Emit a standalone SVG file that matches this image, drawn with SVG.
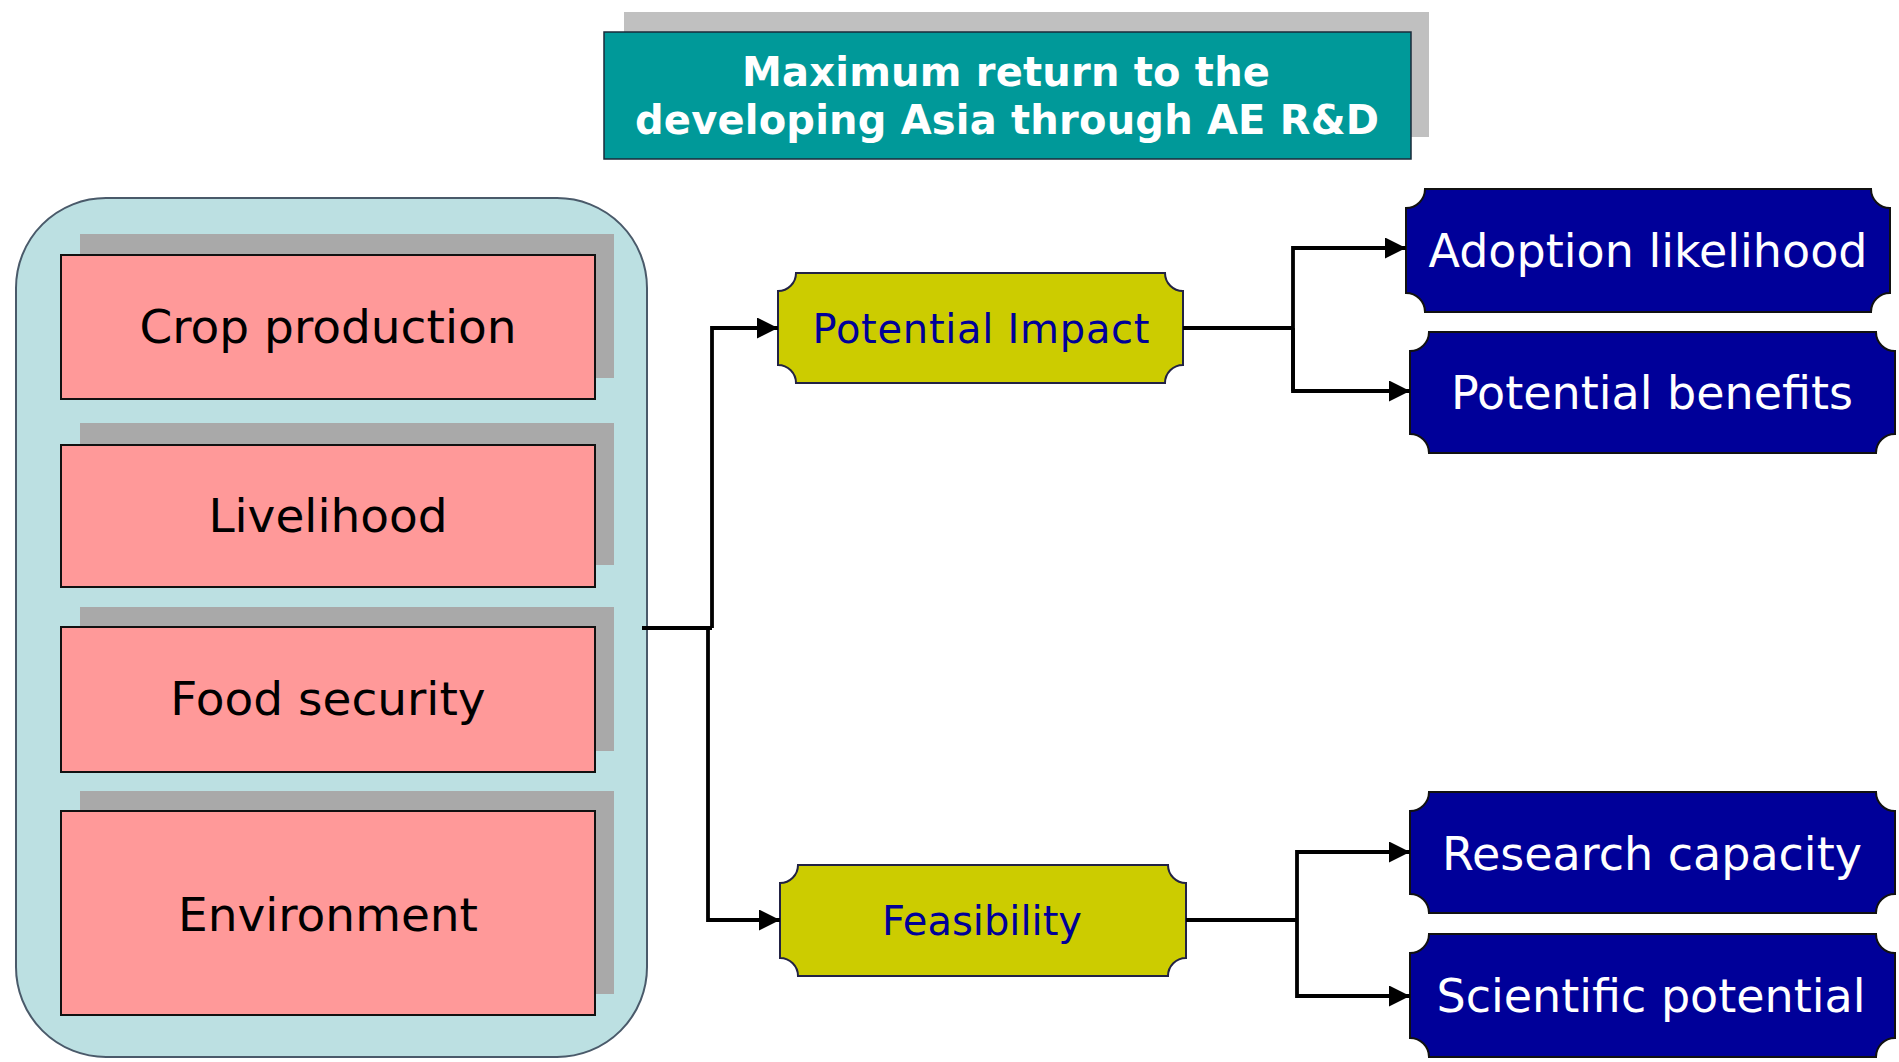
<svg xmlns="http://www.w3.org/2000/svg" width="1899" height="1062" viewBox="0 0 1899 1062">
  <style>
    text { font-family: "DejaVu Sans", Verdana, sans-serif; text-anchor: middle; }
    .title { font-size: 40px; font-weight: bold; fill: #ffffff; }
    .factor { fill: #ff9999; stroke: #111111; stroke-width: 2; }
    .factor-shadow { fill: #a9a9a9; }
    .factor-label { font-size: 47px; fill: #000000; }
    .criterion { fill: #cccc00; stroke: #222244; stroke-width: 2; }
    .criterion-label { font-size: 40px; fill: #000099; }
    .indicator { fill: #000099; stroke: #111111; stroke-width: 2; }
    .indicator-label { font-size: 46px; fill: #ffffff; }
    .wire { fill: none; stroke: #000000; stroke-width: 3.8; }
  </style>
  <defs>
    <marker id="arrow" viewBox="0 0 20 20" refX="20" refY="10" markerWidth="21" markerHeight="21" markerUnits="userSpaceOnUse" orient="auto">
      <path d="M0,0 L20,10 L0,20 Z" fill="#000000"/>
    </marker>
  </defs>

  <rect width="1899" height="1062" fill="#ffffff"/>

  <!-- goal banner -->
  <g id="goal">
    <rect x="624" y="12" width="805" height="125" fill="#c0c0c0"/>
    <rect x="604" y="32" width="807" height="127" fill="#009999" stroke="#1a2a3a" stroke-width="1.5"/>
    <text class="title" x="1006" y="86" textLength="528" lengthAdjust="spacing">Maximum return to the</text>
    <text class="title" x="1007" y="134" textLength="744" lengthAdjust="spacing">developing Asia through AE R&amp;D</text>
  </g>

  <!-- impact domains -->
  <g id="domains">
    <rect x="16" y="198" width="631" height="859" rx="90" ry="90" fill="#bce0e2" stroke="#4a5a6a" stroke-width="2"/>
  </g>
  <g id="crop-production">
    <rect class="factor-shadow" x="80" y="234" width="534" height="144"/>
    <rect class="factor" x="61" y="255" width="534" height="144"/>
    <text class="factor-label" x="328" y="343">Crop production</text>
  </g>
  <g id="livelihood">
    <rect class="factor-shadow" x="80" y="423" width="534" height="142"/>
    <rect class="factor" x="61" y="445" width="534" height="142"/>
    <text class="factor-label" x="328" y="532">Livelihood</text>
  </g>
  <g id="food-security">
    <rect class="factor-shadow" x="80" y="607" width="534" height="144"/>
    <rect class="factor" x="61" y="627" width="534" height="145"/>
    <text class="factor-label" x="328" y="715">Food security</text>
  </g>
  <g id="environment">
    <rect class="factor-shadow" x="80" y="791" width="534" height="203"/>
    <rect class="factor" x="61" y="811" width="534" height="204"/>
    <text class="factor-label" x="328" y="931">Environment</text>
  </g>

  <!-- criteria -->
  <g id="potential-impact">
    <path class="criterion" d="M796,273 H1165 A18,18 0 0 0 1183,291 V365 A18,18 0 0 0 1165,383 H796 A18,18 0 0 0 778,365 V291 A18,18 0 0 0 796,273 Z"/>
    <text class="criterion-label" x="981" y="343" textLength="337" lengthAdjust="spacing">Potential Impact</text>
  </g>
  <g id="feasibility">
    <path class="criterion" d="M798,865 H1168 A18,18 0 0 0 1186,883 V958 A18,18 0 0 0 1168,976 H798 A18,18 0 0 0 780,958 V883 A18,18 0 0 0 798,865 Z"/>
    <text class="criterion-label" x="982" y="935">Feasibility</text>
  </g>

  <!-- indicators -->
  <g id="adoption-likelihood">
    <path class="indicator" d="M1425,189 H1871 A19,19 0 0 0 1890,208 V293 A19,19 0 0 0 1871,312 H1425 A19,19 0 0 0 1406,293 V208 A19,19 0 0 0 1425,189 Z"/>
    <text class="indicator-label" x="1648" y="267">Adoption likelihood</text>
  </g>
  <g id="potential-benefits">
    <path class="indicator" d="M1429,332 H1876 A19,19 0 0 0 1895,351 V434 A19,19 0 0 0 1876,453 H1429 A19,19 0 0 0 1410,434 V351 A19,19 0 0 0 1429,332 Z"/>
    <text class="indicator-label" x="1652" y="409">Potential benefits</text>
  </g>
  <g id="research-capacity">
    <path class="indicator" d="M1429,792 H1876 A19,19 0 0 0 1895,811 V894 A19,19 0 0 0 1876,913 H1429 A19,19 0 0 0 1410,894 V811 A19,19 0 0 0 1429,792 Z"/>
    <text class="indicator-label" x="1652" y="870">Research capacity</text>
  </g>
  <g id="scientific-potential">
    <path class="indicator" d="M1429,934 H1876 A19,19 0 0 0 1895,953 V1038 A19,19 0 0 0 1876,1057 H1429 A19,19 0 0 0 1410,1038 V953 A19,19 0 0 0 1429,934 Z"/>
    <text class="indicator-label" x="1651" y="1012">Scientific potential</text>
  </g>

  <!-- connectors -->
  <g id="connectors">
    <path class="wire" d="M642,628 H712"/>
    <path class="wire" d="M712,628 V328 H778" marker-end="url(#arrow)"/>
    <path class="wire" d="M708,628 V920 H780" marker-end="url(#arrow)"/>
    <path class="wire" d="M1183,328 H1293"/>
    <path class="wire" d="M1293,391 V248 H1406" marker-end="url(#arrow)"/>
    <path class="wire" d="M1293,328 V391 H1410" marker-end="url(#arrow)"/>
    <path class="wire" d="M1186,920 H1297"/>
    <path class="wire" d="M1297,920 V852 H1410" marker-end="url(#arrow)"/>
    <path class="wire" d="M1297,920 V996 H1410" marker-end="url(#arrow)"/>
  </g>
</svg>
